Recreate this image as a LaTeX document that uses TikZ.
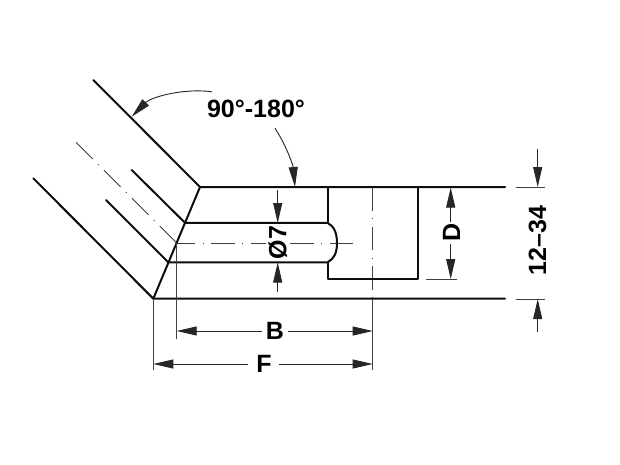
\documentclass[tikz,border=0pt]{standalone}
\usepackage{fontspec}
\setmainfont{Liberation Sans}
\usetikzlibrary{arrows.meta}
\tikzset{
  heavy/.style={line width=2pt,black!95,line cap=round,line join=round},
  thin line/.style={line width=0.9pt,black!75},
  axis line/.style={line width=0.9pt,black!75,dash pattern=on 23.5pt off 7.5pt on 1pt off 7.5pt},
  dim/.style={line width=0.9pt,black!85,-{Triangle[length=20pt,width=9pt]}},
  lbl/.style={font=\fontsize{25}{26}\selectfont\bfseries,text=black,inner sep=0pt},
  lblw/.style={lbl,fill=white,inner sep=2pt}
}
\begin{document}
\begin{tikzpicture}[x=1pt,y=-1pt]
\useasboundingbox[fill=white] (0,0) rectangle (620,465);
% named points
\coordinate (TC) at (200,187);
\coordinate (BC) at (153.3,298.7);
\coordinate (P1) at (185,222.8);
\coordinate (P2) at (168.3,262.3);
\coordinate (CP) at (176.7,243);
% centre lines
\draw[axis line] (76,142.3) -- (CP);
\draw[axis line] (353,243) -- (CP);
\draw[axis line] (372.7,187) -- (372.7,299);
% outlines
\draw[heavy] (93.3,80) -- (TC) -- (505,187);
\draw[heavy] (33.3,178.3) -- (BC) -- (505,298.7);
\draw[heavy] (TC) -- (BC);
\draw[heavy] (131.7,170) -- (P1) -- (327.5,222.8)
   .. controls (334,226) and (337,233) .. (337,243)
   .. controls (337,253) and (334,259) .. (327.5,262.3) -- (P2) -- (106,200);
\draw[heavy] (327.5,187) -- (327.5,222.8);
\draw[heavy] (327.5,262.3) -- (327.5,279.3) -- (418,279.3) -- (418,187);
% extension lines
\draw[thin line] (BC) -- (153.3,370);
\draw[thin line] (CP) -- (176.7,339);
\draw[thin line] (372.7,299) -- (372.7,370);
\draw[thin line] (426,279.3) -- (457,279.3);
\draw[thin line] (515.7,187) -- (544.7,187);
\draw[thin line] (515.7,299) -- (544.7,299);
% angle arrows
\draw[dim] (211.7,91.7) .. controls (180,88) and (150,98) .. (131.7,116.7);
\draw[dim] (275,128.3) .. controls (286,145) and (293,165) .. (295,187);
% bore dimension
\draw[dim] (277.7,190) -- (277.7,223);
\draw[dim] (277.7,291.7) -- (277.7,262.5);
\node[lblw,rotate=90] (d7) at (277.7,242.5) {Ø7};
% D
\draw[dim] (450.7,222) -- (450.7,187.5);
\draw[dim] (450.7,244) -- (450.7,279);
\node[lbl,rotate=90] (dD) at (451.5,232.5) {D};
% 12-34
\draw[dim] (537.7,149) -- (537.7,187);
\draw[dim] (537.7,332) -- (537.7,299);
\node[lbl,rotate=90] (dH) at (537.5,240.5) {12–34};
% B
\draw[dim] (262,331) -- (176.7,331);
\draw[dim] (288,331) -- (372.7,331);
\node[lbl] (dB) at (275,331) {B};
% F
\draw[dim] (248,364) -- (153.3,364);
\draw[dim] (279,364) -- (372.7,364);
\node[lbl] (dF) at (264,364) {F};
% angle label
\node[lbl] (ang) at (256,108.5) {90°-180°};
\end{tikzpicture}
\end{document}
